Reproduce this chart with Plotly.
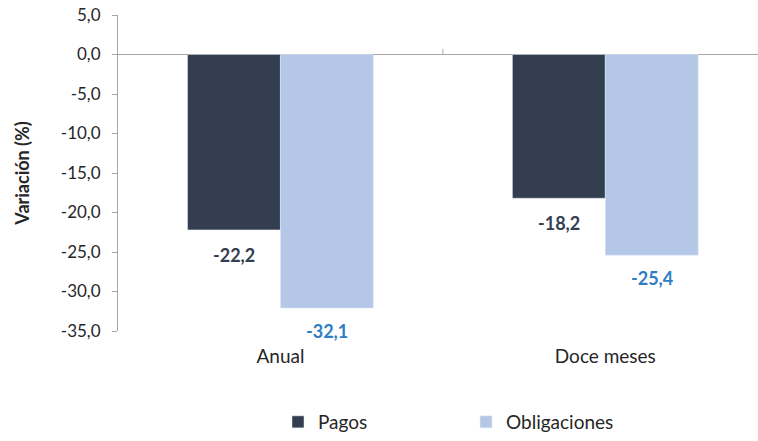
import plotly.graph_objects as go

categories = ["Anual", "Doce meses"]
pagos = [-22.2, -18.2]
obligaciones = [-32.1, -25.4]
series_names = ["Pagos", "Obligaciones"]
y_ticks = [5, 0, -5, -10, -15, -20, -25, -30, -35]

FONT = "Lato"
c_pagos = "#333F50"
c_oblig = "#B4C7E7"
c_oblig_txt = "#2E7EC4"

def fmt(v):
    return f"{v:.1f}".replace(".", ",")

fig = go.Figure()
fig.add_trace(go.Bar(x=categories, y=pagos, name=series_names[0], marker_color=c_pagos,
                     hoverinfo="skip"))
fig.add_trace(go.Bar(x=categories, y=obligaciones, name=series_names[1], marker_color=c_oblig,
                     hoverinfo="skip"))

for i, cat in enumerate(categories):
    fig.add_annotation(x=i - 0.143, y=pagos[i], text=f"<b>{fmt(pagos[i])}</b>", showarrow=False,
                       yshift=-25, yanchor="middle", font=dict(family=FONT, size=18, color="#333F50"))
    fig.add_annotation(x=i + 0.143, y=obligaciones[i], text=f"<b>{fmt(obligaciones[i])}</b>", showarrow=False,
                       yshift=-23, yanchor="middle", font=dict(family=FONT, size=18, color=c_oblig_txt))

# small category divider tick on the zero line
fig.add_shape(type="line", xref="x", yref="y", x0=0.5, x1=0.5, y0=0, y1=0.7,
              line=dict(color="#A6A6A6", width=1))

fig.update_layout(
    width=758, height=441,
    margin=dict(l=118, r=0, t=15, b=110),
    paper_bgcolor="white", plot_bgcolor="white",
    barmode="group", bargap=0.428, bargroupgap=0,
    separators=",.",
    font=dict(family=FONT, size=16, color="#333333"),
    showlegend=True,
    legend=dict(orientation="h", x=0.25, xanchor="left", yref="container", y=0.0, yanchor="bottom",
                font=dict(family=FONT, size=19, color="#262626"),
                entrywidth=143, entrywidthmode="pixels", itemwidth=30,
                traceorder="normal"),
    xaxis=dict(range=[-0.5, 1.47], showgrid=False, showline=False, zeroline=False,
               ticks="", ticklabelstandoff=12,
               tickfont=dict(family=FONT, size=19, color="#262626")),
    yaxis=dict(range=[-35, 5], tickvals=y_ticks, ticktext=[fmt(v) for v in y_ticks],
               showgrid=False, showline=True, linecolor="#A6A6A6", linewidth=1,
               ticks="outside", ticklen=5, tickcolor="#A6A6A6",
               ticklabeloverflow="allow", ticklabelstandoff=8,
               zeroline=True, zerolinecolor="#A6A6A6", zerolinewidth=1,
               tickfont=dict(family=FONT, size=17, color="#262626"),
               title=dict(text="<b>Variación (%)</b>", standoff=26,
                          font=dict(family=FONT, size=18, color="#262626"))),
)

fig.write_html("out.html", config={"displayModeBar": False},
               post_script="document.body.style.margin='0';")
